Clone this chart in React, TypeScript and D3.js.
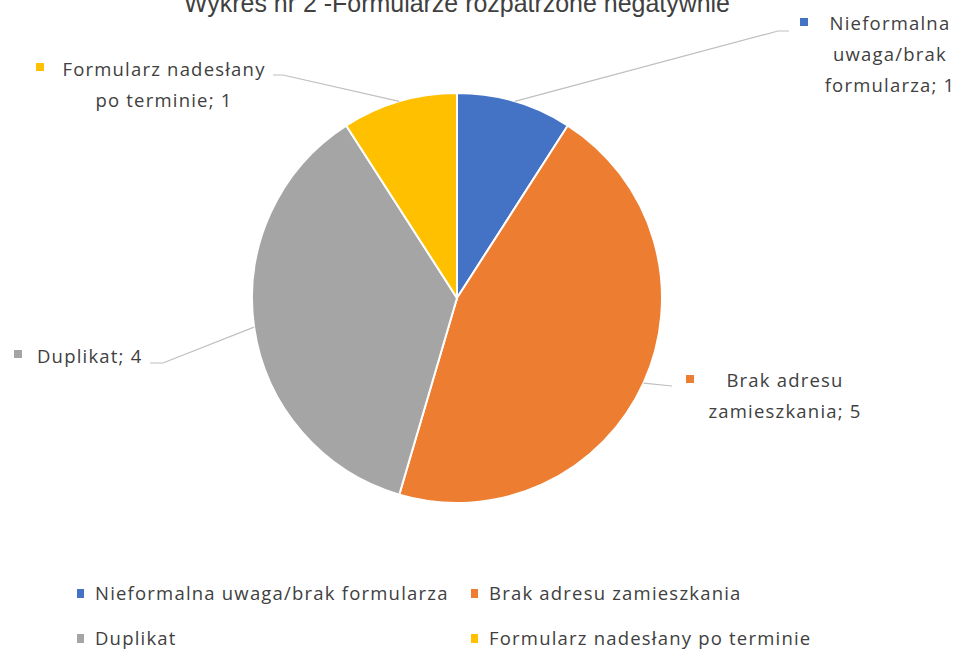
import * as d3 from "d3";

const categories = [
  "Nieformalna uwaga/brak formularza",
  "Brak adresu zamieszkania",
  "Duplikat",
  "Formularz nadesłany po terminie",
];
const values = [1, 5, 4, 1];
const colors = ["#4472C4", "#ED7D31", "#A5A5A5", "#FFC000"];
const labelLines = [
  ["Nieformalna", "uwaga/brak", "formularza; 1"],
  ["Brak adresu", "zamieszkania; 5"],
  ["Duplikat; 4"],
  ["Formularz nadesłany", "po terminie; 1"],
];

const width = 960;
const height = 652;
const cx = 457;
const cy = 298;
const radius = 205;
const textColor = "#404040";
const font = "'Open Sans', 'Noto Sans', sans-serif";
const fontSize = 18.5;
const spacing = 1.2;

// label layout: text anchor point, square position, leader elbow
const labelLayout = [
  { tx: 890, ty: 30, anchor: "middle", sq: [800, 18], elbow: [778, 31], end: [789, 31] },
  { tx: 785, ty: 387, anchor: "middle", sq: [686, 375], elbow: [672, 386], end: [672, 386] },
  { tx: 37, ty: 363, anchor: "start", sq: [14, 350], elbow: [163, 363], end: [150, 363] },
  { tx: 164, ty: 76, anchor: "middle", sq: [36, 63], elbow: [283, 75], end: [273, 75] },
];

export default function App() {
  const pie = d3
    .pie<number>()
    .sort(null)
    .value((d) => d);
  const arcs = pie(values);
  const arc = d3
    .arc<d3.PieArcDatum<number>>()
    .innerRadius(0)
    .outerRadius(radius);

  const pointOnArc = (a: d3.PieArcDatum<number>) => {
    const mid = (a.startAngle + a.endAngle) / 2;
    return [Math.sin(mid) * radius, -Math.cos(mid) * radius];
  };

  const legendX = [77, 471];
  const legendY = [600, 645];

  return (
    <svg
      width={width}
      height={height}
      viewBox={`0 0 ${width} ${height}`}
      style={{ position: "absolute", left: 0, top: 0, background: "#fff" }}
    >
      <text
        x={cx}
        y={12}
        textAnchor="middle"
        fontFamily="'Liberation Sans Narrow', 'Liberation Sans', Arial, sans-serif"
        fontSize={25}
        fill={textColor}
        textLength={546}
        lengthAdjust="spacingAndGlyphs"
      >
        Wykres nr 2 -Formularze rozpatrzone negatywnie
      </text>

      <g transform={`translate(${cx},${cy})`}>
        {arcs.map((a, i) => (
          <path
            key={categories[i]}
            d={arc(a) ?? ""}
            fill={colors[i]}
            stroke="#ffffff"
            strokeWidth={2}
          />
        ))}
      </g>

      {arcs.map((a, i) => {
        const [px, py] = pointOnArc(a);
        const l = labelLayout[i];
        return (
          <g key={`label-${i}`}>
            <polyline
              points={`${cx + px},${cy + py} ${l.elbow[0]},${l.elbow[1]} ${l.end[0]},${l.end[1]}`}
              fill="none"
              stroke="#bfbfbf"
              strokeWidth={1.2}
            />
            <rect x={l.sq[0]} y={l.sq[1]} width={8} height={8} fill={colors[i]} />
            <text
              x={l.tx}
              y={l.ty}
              textAnchor={l.anchor}
              fontFamily={font}
              fontSize={fontSize}
              letterSpacing={spacing}
              fill={textColor}
            >
              {labelLines[i].map((line, j) => (
                <tspan key={j} x={l.tx} dy={j === 0 ? 0 : 31}>
                  {line}
                </tspan>
              ))}
            </text>
          </g>
        );
      })}

      {categories.map((c, i) => {
        const x = legendX[i % 2];
        const y = legendY[Math.floor(i / 2)];
        return (
          <g key={`legend-${c}`}>
            <rect x={x} y={y - 11} width={7} height={9} fill={colors[i]} />
            <text
              x={x + 18}
              y={y}
              fontFamily={font}
              fontSize={fontSize}
              letterSpacing={spacing}
              fill={textColor}
            >
              {c}
            </text>
          </g>
        );
      })}
    </svg>
  );
}
